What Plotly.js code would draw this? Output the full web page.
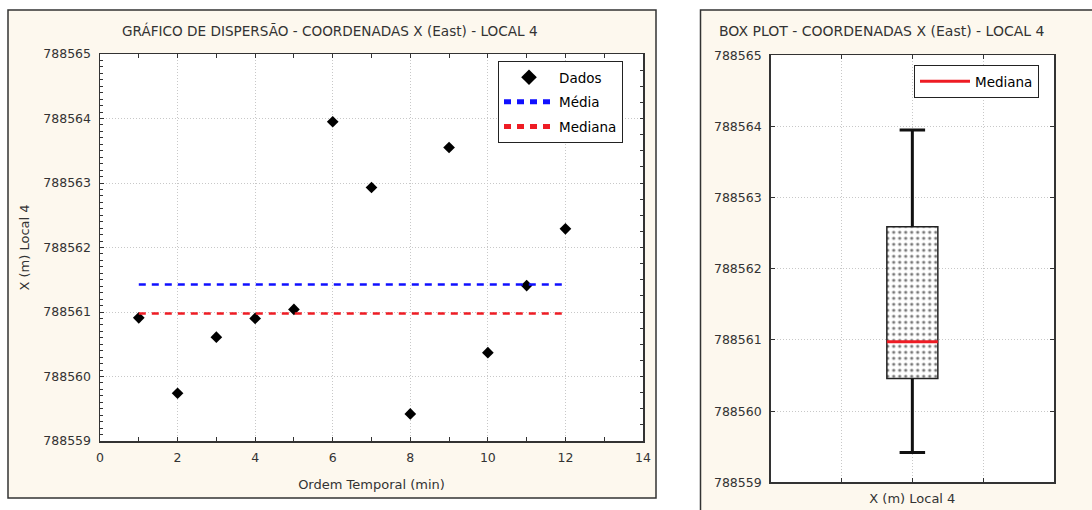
<!DOCTYPE html>
<html>
<head>
<meta charset="utf-8">
<script src="https://cdn.plot.ly/plotly-3.0.1.min.js"></script>
<style>
  html, body { margin: 0; padding: 0; background: #ffffff; }
  #chart { width: 1092px; height: 510px; }
</style>
</head>
<body>
<div id="chart"></div>
<script>
// ---- data ----
const ordemTemporal = [1, 2, 3, 4, 5, 6, 7, 8, 9, 10, 11, 12];
const coordX = [788560.91, 788559.74, 788560.61, 788560.90, 788561.04, 788563.95,
                788562.93, 788559.42, 788563.55, 788560.37, 788561.41, 788562.29];
const boxQ1 = [788560.46];
const boxQ3 = [788562.59];
const boxCategory = [2];

const titleLeft = 'GRÁFICO DE DISPERSÃO - COORDENADAS X (East) - LOCAL 4';
const titleRight = 'BOX PLOT - COORDENADAS X (East) - LOCAL 4';

// ---- derived statistics ----
const media = coordX.reduce((a, b) => a + b, 0) / coordX.length;
const sorted = coordX.slice().sort((a, b) => a - b);
const n = sorted.length;
const mediana = n % 2 ? sorted[(n - 1) / 2] : (sorted[n / 2 - 1] + sorted[n / 2]) / 2;
const minimo = sorted[0];
const maximo = sorted[n - 1];

const xFirst = ordemTemporal[0];
const xLast = ordemTemporal[ordemTemporal.length - 1];

// ---- styling constants ----
const FONT = 'DejaVu Sans';
const AX = '#333333';
const GRID = '#c8c8c8';
const GRIDDASH = '1px,2px';
const CREAM = '#fdf8ee';
const W = 1092, H = 510;
const px = v => v / W;
const py = v => 1 - v / H;
const boxHalf = 0.36;
const capHalf = 0.18;

const traces = [
  {
    x: ordemTemporal, y: coordX, type: 'scatter', mode: 'markers', name: 'Dados',
    marker: { symbol: 'diamond', size: 9, color: '#000000' },
    xaxis: 'x', yaxis: 'y', legend: 'legend', legendgroup: 'g1'
  },
  {
    x: [xFirst, xLast], y: [media, media], type: 'scatter', mode: 'lines', name: 'Média',
    line: { color: '#1010ff', width: 2.5, dash: '7px,6px' },
    xaxis: 'x', yaxis: 'y', legend: 'legend', legendgroup: 'g2'
  },
  {
    x: [xFirst, xLast], y: [mediana, mediana], type: 'scatter', mode: 'lines', name: 'Mediana',
    line: { color: '#ee1c24', width: 2.5, dash: '7px,6px' },
    xaxis: 'x', yaxis: 'y', legend: 'legend', legendgroup: 'g3'
  },
  {
    x: [null], y: [null], type: 'scatter', mode: 'markers', showlegend: false,
    hoverinfo: 'skip', xaxis: 'x', yaxis: 'y3'
  },
  // box body
  {
    x: boxCategory, base: boxQ1, y: boxQ3.map((q, i) => q - boxQ1[i]), type: 'bar',
    width: boxHalf * 2, showlegend: false,
    marker: {
      color: '#ffffff',
      line: { color: '#222222', width: 1.5 },
      pattern: { shape: '.', fgcolor: '#777777', bgcolor: '#ffffff', size: 6, solidity: 0.22 }
    },
    xaxis: 'x2', yaxis: 'y2'
  },
  // whiskers
  {
    x: [boxCategory[0], boxCategory[0], null, boxCategory[0], boxCategory[0]],
    y: [boxQ3[0], maximo, null, boxQ1[0], minimo],
    type: 'scatter', mode: 'lines', showlegend: false,
    line: { color: '#111111', width: 3 }, xaxis: 'x2', yaxis: 'y2'
  },
  // caps
  {
    x: [boxCategory[0] - capHalf, boxCategory[0] + capHalf, null, boxCategory[0] - capHalf, boxCategory[0] + capHalf],
    y: [maximo, maximo, null, minimo, minimo],
    type: 'scatter', mode: 'lines', showlegend: false,
    line: { color: '#111111', width: 3 }, xaxis: 'x2', yaxis: 'y2'
  },
  // median
  {
    x: [boxCategory[0] - boxHalf, boxCategory[0] + boxHalf], y: [mediana, mediana],
    type: 'scatter', mode: 'lines', name: 'Mediana',
    line: { color: '#ee1c24', width: 3 }, xaxis: 'x2', yaxis: 'y2', legend: 'legend2'
  }
];

const tickFont = { family: FONT, size: 12.5, color: '#333333' };
const titleFont = { family: FONT, size: 13, color: '#333333' };

const layout = {
  width: W, height: H,
  margin: { l: 0, r: 0, t: 0, b: 0, pad: 0 },
  paper_bgcolor: '#ffffff',
  plot_bgcolor: '#ffffff',
  showlegend: true,
  font: { family: FONT, color: '#333333' },
  xaxis: {
    domain: [px(100), px(643)], anchor: 'y',
    range: [0, 14], tick0: 0, dtick: 2,
    ticks: 'inside', ticklen: 4, tickcolor: AX, tickwidth: 1,
    minor: { dtick: 1, ticks: 'inside', ticklen: 3, tickcolor: AX, showgrid: false },
    showgrid: true, gridcolor: GRID, griddash: GRIDDASH, gridwidth: 1,
    showline: true, linecolor: AX, linewidth: 1.5, mirror: 'allticks', zeroline: false,
    tickfont: tickFont, ticklabelstandoff: 4,
    title: { text: 'Ordem Temporal (min)', font: titleFont, standoff: 16 }
  },
  yaxis: {
    domain: [1 - 441 / H, 1 - 54 / H], anchor: 'x',
    range: [788559, 788565], tick0: 788559, dtick: 1, tickformat: 'd',
    ticks: 'inside', ticklen: 4, tickcolor: AX,
    minor: { dtick: 0.1, ticks: 'inside', ticklen: 3, tickcolor: AX, showgrid: false },
    showgrid: true, gridcolor: GRID, griddash: GRIDDASH, gridwidth: 1,
    showline: true, linecolor: AX, linewidth: 1.5, mirror: true, zeroline: false,
    tickfont: tickFont, ticklabelstandoff: 5,
    title: { text: 'X (m) Local 4', font: titleFont, standoff: 10 }
  },
  yaxis3: {
    overlaying: 'y', side: 'right', anchor: 'x',
    range: [788559, 788565], tick0: 788559, dtick: 0.25,
    ticks: 'inside', ticklen: 3, tickcolor: AX,
    showticklabels: false, showgrid: false, showline: false, zeroline: false
  },
  xaxis2: {
    domain: [px(770.7), px(1054)], anchor: 'y2',
    range: [0, 4], tick0: 0, dtick: 1,
    ticks: 'inside', ticklen: 4, tickcolor: AX,
    showticklabels: false,
    showgrid: true, gridcolor: GRID, griddash: GRIDDASH, gridwidth: 1,
    showline: true, linecolor: AX, linewidth: 1.5, mirror: 'allticks', zeroline: false,
    title: { text: 'X (m) Local 4', font: titleFont, standoff: 11 }
  },
  yaxis2: {
    domain: [1 - 482.3 / H, 1 - 55.3 / H], anchor: 'x2',
    range: [788559, 788565], tick0: 788559, dtick: 1, tickformat: 'd',
    ticks: 'inside', ticklen: 4, tickcolor: AX,
    showgrid: true, gridcolor: GRID, griddash: GRIDDASH, gridwidth: 1,
    showline: true, linecolor: AX, linewidth: 1.5, mirror: 'allticks', zeroline: false,
    tickfont: tickFont, ticklabelstandoff: 5
  },
  legend: {
    x: px(498), y: py(61), xanchor: 'left', yanchor: 'top',
    bgcolor: '#ffffff', bordercolor: '#222222', borderwidth: 1,
    font: { family: FONT, size: 13.5, color: '#000000' },
    itemsizing: 'constant', itemwidth: 50, tracegroupgap: 4
  },
  legend2: {
    x: px(914), y: py(65), xanchor: 'left', yanchor: 'top',
    bgcolor: '#ffffff', bordercolor: '#222222', borderwidth: 1,
    font: { family: FONT, size: 13.5, color: '#000000' },
    itemwidth: 50
  },
  shapes: [
    { type: 'rect', xref: 'paper', yref: 'paper', x0: px(8), x1: px(656), y0: py(498), y1: py(10),
      fillcolor: CREAM, line: { color: '#333333', width: 1.5 }, layer: 'below' },
    { type: 'rect', xref: 'paper', yref: 'paper', x0: px(700.5), x1: 1.02, y0: -0.05, y1: py(10),
      fillcolor: CREAM, line: { color: '#333333', width: 1.5 }, layer: 'below' },
    { type: 'rect', xref: 'x domain', yref: 'y domain', x0: 0, x1: 1, y0: 0, y1: 1,
      fillcolor: '#ffffff', line: { width: 0 }, layer: 'below' },
    { type: 'rect', xref: 'x2 domain', yref: 'y2 domain', x0: 0, x1: 1, y0: 0, y1: 1,
      fillcolor: '#ffffff', line: { width: 0 }, layer: 'below' }
  ],
  annotations: [
    { text: titleLeft, xref: 'paper', yref: 'paper', x: px(330), y: py(30),
      xanchor: 'center', yanchor: 'middle', showarrow: false,
      font: { family: FONT, size: 13.6, color: '#333333' } },
    { text: titleRight, xref: 'paper', yref: 'paper', x: px(882), y: py(31),
      xanchor: 'center', yanchor: 'middle', showarrow: false,
      font: { family: FONT, size: 14, color: '#333333' } }
  ]
};

Plotly.newPlot('chart', traces, layout, { displayModeBar: false, staticPlot: true });
</script>
</body>
</html>
